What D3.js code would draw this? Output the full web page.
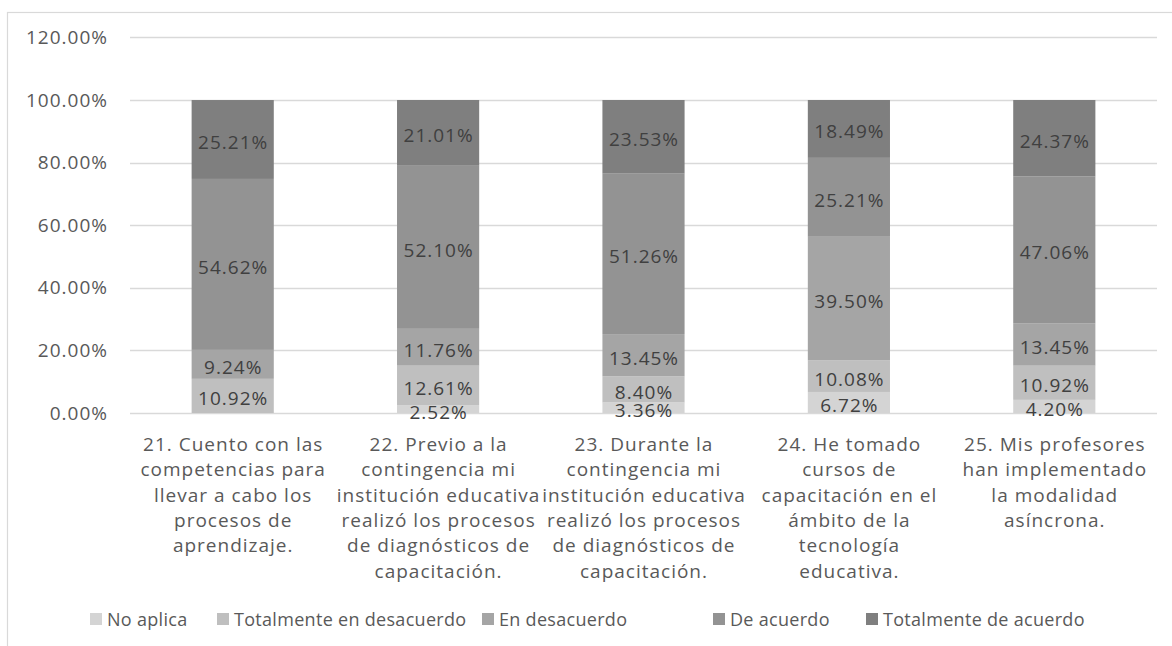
<!DOCTYPE html>
<html>
<head>
<meta charset="utf-8">
<script src="https://cdn.jsdelivr.net/npm/d3@7"></script>
<style>
  html, body { margin: 0; padding: 0; background: #fff; }
  svg { display: block; font-family: "Open Sans", sans-serif; }
</style>
</head>
<body>
<svg id="chart" width="1172" height="646"></svg>
<script>
// Survey items (wrapped into display lines)
const categories = [
  "21. Cuento con las competencias para llevar a cabo los procesos de aprendizaje.",
  "22. Previo a la contingencia mi institución educativa realizó los procesos de diagnósticos de capacitación.",
  "23. Durante la contingencia mi institución educativa realizó los procesos de diagnósticos de capacitación.",
  "24. He tomado cursos de capacitación en el ámbito de la tecnología educativa.",
  "25. Mis profesores han implementado la modalidad asíncrona."
];
const categoryLines = [
  ["21. Cuento con las", "competencias para", "llevar a cabo los", "procesos de", "aprendizaje."],
  ["22. Previo a la", "contingencia mi", "institución educativa", "realizó los procesos", "de diagnósticos de", "capacitación."],
  ["23. Durante la", "contingencia mi", "institución educativa", "realizó los procesos", "de diagnósticos de", "capacitación."],
  ["24. He tomado", "cursos de", "capacitación en el", "ámbito de la", "tecnología", "educativa."],
  ["25. Mis profesores", "han implementado", "la modalidad", "asíncrona."]
];

// Response shares (percent), stacked bottom to top
const seriesNames = ["No aplica", "Totalmente en desacuerdo", "En desacuerdo", "De acuerdo", "Totalmente de acuerdo"];
const noAplica       = [0,     2.52,  3.36,  6.72,  4.20];
const totDesacuerdo  = [10.92, 12.61, 8.40,  10.08, 10.92];
const enDesacuerdo   = [9.24,  11.76, 13.45, 39.50, 13.45];
const deAcuerdo      = [54.62, 52.10, 51.26, 25.21, 47.06];
const totDeAcuerdo   = [25.21, 21.01, 23.53, 18.49, 24.37];

const yTicks = [0, 20, 40, 60, 80, 100, 120];
const seriesColors = ["#d4d4d4", "#bfbfbf", "#a5a5a5", "#939393", "#7f7f7f"];

const seriesValues = [noAplica, totDesacuerdo, enDesacuerdo, deAcuerdo, totDeAcuerdo];
const rows = categories.map((c, i) => {
  const r = { cat: c };
  seriesNames.forEach((s, k) => r[s] = seriesValues[k][i]);
  return r;
});

const FONT = 19;
const svg = d3.select("#chart");

// outer frame
svg.append("rect")
  .attr("x", 7.5).attr("y", 12.5)
  .attr("width", 1200).attr("height", 700)
  .attr("fill", "none").attr("stroke", "#d9d9d9").attr("stroke-width", 1.2);

const plot = { left: 130, right: 1157, top: 37.4, bottom: 413 };

const x = d3.scaleBand().domain(categories).range([plot.left, plot.right]).padding(0);
const barW = x.bandwidth() * 0.4;
const y = d3.scaleLinear().domain([0, 120]).range([plot.bottom, plot.top]);

// gridlines
svg.append("g").selectAll("line").data(yTicks).join("line")
  .attr("x1", plot.left).attr("x2", plot.right)
  .attr("y1", d => Math.round(y(d)) + 0.5).attr("y2", d => Math.round(y(d)) + 0.5)
  .attr("stroke", "#d9d9d9").attr("stroke-width", 1.3);

// y axis labels
const yAxis = d3.axisLeft(y).tickValues(yTicks)
  .tickFormat(d => d3.format(".2f")(d) + "%").tickSize(0).tickPadding(0);
const gy = svg.append("g").attr("transform", `translate(108,0)`).call(yAxis);
gy.select(".domain").remove();
gy.selectAll("text")
  .attr("fill", "#595959").attr("font-size", FONT + "px")
  .attr("letter-spacing", "1px")
  .attr("font-family", "'Open Sans', sans-serif");

// stacked bars
const stack = d3.stack().keys(seriesNames);
const layers = stack(rows);

const gBars = svg.append("g");
layers.forEach((layer, k) => {
  gBars.append("g").selectAll("rect").data(layer).join("rect")
    .attr("x", d => x(d.data.cat) + (x.bandwidth() - barW) / 2)
    .attr("width", barW)
    .attr("y", d => y(d[1]))
    .attr("height", d => y(d[0]) - y(d[1]))
    .attr("fill", seriesColors[k]);
});

// data labels
const gLab = svg.append("g");
layers.forEach((layer) => {
  gLab.append("g").selectAll("text").data(layer.filter(d => d[1] - d[0] > 0)).join("text")
    .attr("x", d => x(d.data.cat) + x.bandwidth() / 2 + 0.5)
    .attr("y", d => y((d[0] + d[1]) / 2))
    .attr("dy", "0.5em")
    .attr("text-anchor", "middle")
    .attr("fill", "#404040")
    .attr("font-size", FONT + "px")
    .attr("letter-spacing", "1px")
    .text(d => d3.format(".2f")(d[1] - d[0]) + "%");
});

// category labels
const gCat = svg.append("g");
categories.forEach((c, i) => {
  const t = gCat.append("text")
    .attr("text-anchor", "middle")
    .attr("fill", "#595959")
    .attr("font-size", FONT + "px")
    .attr("letter-spacing", "1px");
  categoryLines[i].forEach((line, j) => {
    t.append("tspan")
      .attr("x", x(c) + x.bandwidth() / 2 + 0.5)
      .attr("y", 451 + j * 25.3)
      .text(line);
  });
});

// legend
const legendX = [90, 217, 482, 713, 866];
const gLeg = svg.append("g");
seriesNames.forEach((s, k) => {
  const g = gLeg.append("g").attr("transform", `translate(${legendX[k]},613)`);
  g.append("rect").attr("width", 12).attr("height", 12).attr("fill", seriesColors[k]);
  g.append("text").attr("x", 17).attr("y", 13)
    .attr("fill", "#595959").attr("font-size", "18px")
    .attr("letter-spacing", "0.3px").text(s);
});
</script>
</body>
</html>
